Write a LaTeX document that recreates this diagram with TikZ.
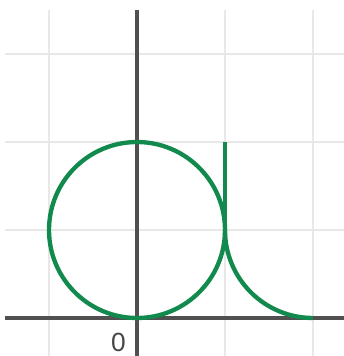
\documentclass[tikz,border=0pt]{standalone}
\usepackage{fontspec}
\setmainfont{Liberation Sans}
\definecolor{curvegreen}{RGB}{18,138,78}
\definecolor{gridgray}{RGB}{232,232,232}
\definecolor{axisgray}{RGB}{80,80,80}
\definecolor{labelgray}{RGB}{70,70,70}
\tikzset{
  gridline/.style={draw=gridgray, line width=0.9pt},
  axisline/.style={draw=axisgray, line width=1.1pt},
  curve/.style={draw=curvegreen, line width=1.4pt},
}
\begin{document}
\begin{tikzpicture}[x=1cm,y=1cm]
\useasboundingbox (-1.557,-0.432) rectangle (2.352,3.614);
% grid
\foreach \x in {-1,1,2} \draw[gridline] (\x,-0.432) -- (\x,3.5);
\foreach \y in {1,2,3} \draw[gridline] (-1.5,\y) -- (2.352,\y);
% axes
\draw[axisline] (-1.5,0) -- (2.352,0);
\draw[axisline] (0,-0.432) -- (0,3.5);
% label
\node[text=labelgray, font=\fontsize{8.5}{9}\selectfont, inner sep=0pt] (zero) at (-0.21,-0.28) {0};
% curves
\draw[curve] (0,1) circle[radius=1];
\coordinate (stemtop) at (1,2);
\coordinate (stembot) at (1,1);
\draw[curve] (stemtop) -- (stembot);
\draw[curve] (stembot) arc[start angle=180, end angle=270, radius=1];
\end{tikzpicture}
\end{document}
